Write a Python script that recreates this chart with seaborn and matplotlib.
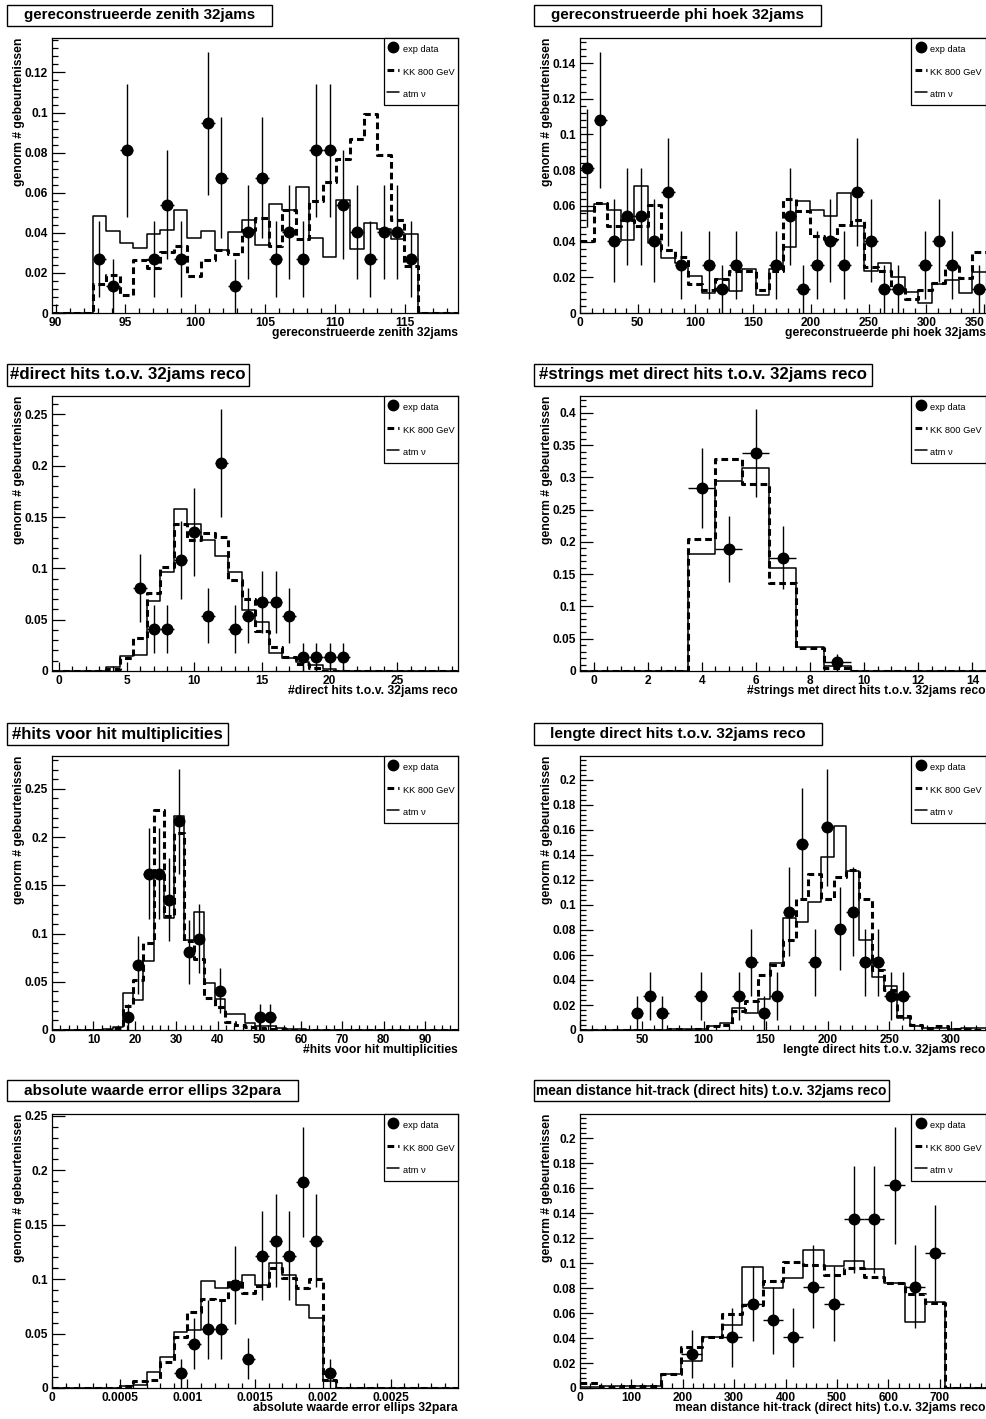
import numpy as np
import pandas as pd
import matplotlib
matplotlib.use("Agg")
import matplotlib.pyplot as plt
from matplotlib.lines import Line2D
from matplotlib.patches import Rectangle
from matplotlib.ticker import MultipleLocator, AutoMinorLocator, FuncFormatter
import seaborn as sns

# ---------------------------------------------------------------- data
N_EVENTS = 74  # number of experimental events; data points are counts / N_EVENTS

# reconstructed zenith (30 bins)
zenith_range = (89.74, 118.83)
zenith_atm = [0, 0, 0, 0.0482, 0.0411, 0.0349, 0.0323, 0.0394, 0.0416, 0.0515,
              0.0374, 0.0407, 0.0316, 0.0402, 0.0462, 0.0341, 0.0542, 0.0515, 0.0629, 0.0372,
              0.0278, 0.0564, 0.0319, 0.0449, 0.0419, 0.0369, 0.0394, 0, 0, 0]
zenith_kk = [0, 0, 0, 0.0146, 0.019, 0.009, 0.0263, 0.0226, 0.0303, 0.0336,
             0.0186, 0.0263, 0.0316, 0.0296, 0.0416, 0.0474, 0.0333, 0.0515, 0.0369, 0.0559,
             0.0654, 0.0768, 0.0868, 0.0993, 0.0787, 0.0466, 0.0233, 0, 0, 0]
zenith_data = [0, 0, 0, 2, 1, 6, 0, 2, 4, 2, 0, 7, 5, 1, 3, 5, 2, 3, 2, 6,
               6, 4, 3, 2, 3, 3, 2, 0, 0, 0]

# reconstructed phi angle (30 bins)
phi_range = (0.0, 351.5)
phi_atm = [0.057, 0.0612, 0.0575, 0.041, 0.0713, 0.0392, 0.0308, 0.028, 0.0205, 0.0112,
           0.019, 0.0121, 0.0246, 0.0103, 0.0246, 0.037, 0.0625, 0.0575, 0.0545, 0.0672,
           0.0489, 0.0233, 0.028, 0.020, 0.0116, 0.0056, 0.0162, 0.0187, 0.011, 0.0228]
phi_kk = [0.0401, 0.0616, 0.0489, 0.0523, 0.0485, 0.0607, 0.0355, 0.0314, 0.0162, 0.0127,
          0.019, 0.0233, 0.0233, 0.0127, 0.0233, 0.064, 0.057, 0.0433, 0.0414, 0.0493,
          0.0523, 0.026, 0.0233, 0.0136, 0.0078, 0.013, 0.0168, 0.026, 0.0196, 0.034]
phi_data = [6, 8, 3, 4, 4, 3, 5, 2, 0, 2, 1, 2, 0, 0, 2, 4, 1, 2, 3, 2,
            5, 3, 1, 1, 0, 2, 3, 2, 0, 1]

# number of direct hits (30 bins)
ndir_range = (-0.5, 29.5)
ndir_atm = [0, 0, 0, 0, 0.004, 0.0146, 0.0156, 0.0685, 0.0968, 0.158,
            0.143, 0.128, 0.112, 0.096, 0.0594, 0.0474, 0.0179, 0.013, 0.0091, 0.0058,
            0.002, 0, 0, 0, 0, 0, 0, 0, 0, 0]
ndir_kk = [0, 0, 0, 0, 0.002, 0.013, 0.0325, 0.0763, 0.101, 0.143,
           0.128, 0.134, 0.131, 0.0886, 0.0698, 0.0393, 0.023, 0.014, 0.0068, 0.0026,
           0, 0, 0, 0, 0, 0, 0, 0, 0, 0]
ndir_data = [0, 0, 0, 0, 0, 0, 6, 3, 3, 8, 10, 4, 15, 3, 4, 5, 5, 4, 1, 1,
             1, 1, 0, 0, 0, 0, 0, 0, 0, 0]

# number of strings with direct hits (15 bins)
nstr_range = (-0.5, 14.5)
nstr_atm = [0, 0, 0, 0, 0.182, 0.295, 0.314, 0.160, 0.0377, 0.0077, 0, 0, 0, 0, 0]
nstr_kk = [0, 0, 0, 0, 0.204, 0.329, 0.289, 0.137, 0.035, 0.005, 0, 0, 0, 0, 0]
nstr_data = [0, 0, 0, 0, 21, 14, 25, 13, 0, 1, 0, 0, 0, 0, 0]

# number of hits (40 bins)
nhit_range = (0.0, 98.0)
nhit_atm = [0, 0, 0, 0, 0, 0.001, 0.003, 0.038, 0.031, 0.0717,
            0.16, 0.116, 0.222, 0.093, 0.122, 0.049, 0.0317, 0.0166, 0.0166, 0.0076,
            0.0045, 0.004, 0.002, 0.001, 0.001, 0.0005, 0.0005, 0, 0, 0,
            0, 0, 0, 0, 0, 0, 0, 0, 0, 0]
nhit_kk = [0, 0, 0, 0, 0, 0, 0.002, 0.025, 0.052, 0.090,
           0.228, 0.118, 0.204, 0.092, 0.074, 0.0334, 0.024, 0.0086, 0.005, 0.003,
           0.002, 0.001, 0.001, 0, 0, 0, 0, 0, 0, 0,
           0, 0, 0, 0, 0, 0, 0, 0, 0, 0]
nhit_data = [0, 0, 0, 0, 0, 0, 0, 1, 5, 12, 12, 10, 16, 6, 7, 0, 3, 0, 0, 0,
             1, 1, 0, 0, 0, 0, 0, 0, 0, 0, 0, 0, 0, 0, 0, 0, 0, 0, 0, 0]

# length of direct hits (32 bins)
len_range = (0.0, 328.0)
len_atm = [0, 0, 0, 0, 0, 0, 0, 0.001, 0.001, 0.001,
           0.0032, 0.0053, 0.0173, 0.0139, 0.0245, 0.0533, 0.0893, 0.0867, 0.1027, 0.1387,
           0.1635, 0.1275, 0.072, 0.0427, 0.0355, 0.0099, 0.0032, 0.002, 0.002, 0.001,
           0.002, 0.002]
len_kk = [0, 0, 0, 0, 0, 0, 0, 0.001, 0, 0.001,
          0.003, 0.004, 0.015, 0.023, 0.044, 0.052, 0.072, 0.1045, 0.1245, 0.105,
          0.1227, 0.128, 0.105, 0.048, 0.032, 0.011, 0.004, 0.002, 0.003, 0.001,
          0.001, 0]
len_data = [0, 0, 0, 0, 1, 2, 1, 0, 0, 2, 0, 0, 2, 4, 1, 2, 7, 11, 4, 12,
            6, 7, 4, 4, 2, 2, 0, 0, 0, 0, 0, 0]

# absolute value error ellipse (30 bins)
ell_range = (0.0, 0.003)
ell_atm = [0, 0, 0, 0, 0, 0.0015, 0.003, 0.0143, 0.0284, 0.051,
           0.053, 0.098, 0.092, 0.0976, 0.104, 0.0946, 0.115, 0.1037, 0.0763, 0.064,
           0.006, 0, 0, 0, 0, 0, 0, 0, 0, 0]
ell_kk = [0, 0, 0, 0, 0, 0.0015, 0.006, 0.0076, 0.0235, 0.047,
          0.070, 0.082, 0.081, 0.098, 0.087, 0.094, 0.11, 0.1007, 0.092, 0.10,
          0.0076, 0, 0, 0, 0, 0, 0, 0, 0, 0]
ell_data = [0, 0, 0, 0, 0, 0, 0, 0, 0, 1, 3, 4, 4, 7, 2, 9, 10, 9, 14, 10,
            1, 0, 0, 0, 0, 0, 0, 0, 0, 0]

# mean distance hit-track (20 bins)
dist_range = (0.0, 790.0)
dist_atm = [0.0005, 0.0013, 0.002, 0.002, 0.0112, 0.0218, 0.0412, 0.0505, 0.0966, 0.0798,
            0.0878, 0.1104, 0.0976, 0.1016, 0.095, 0.0843, 0.0532, 0.0692, 0, 0]
dist_kk = [0.004, 0.001, 0.002, 0.002, 0.0112, 0.0325, 0.0412, 0.0593, 0.0665, 0.0857,
           0.101, 0.0984, 0.0904, 0.0963, 0.089, 0.0838, 0.075, 0.0684, 0, 0]
dist_data = [0, 0, 0, 0, 0, 2, 0, 3, 5, 4, 3, 6, 5, 10, 10, 12, 6, 8, 0, 0]

YLABEL = "genorm # gebeurtenissen"
LEGEND_LABELS = ["exp data", "KK 800 GeV", "atm \u03bd"]

panels = [
    dict(title="gereconstrueerde zenith 32jams", xlabel="gereconstrueerde zenith 32jams",
         xrange=zenith_range, atm=zenith_atm, kk=zenith_kk, data=zenith_data,
         ymax=0.1372, xmajor=5, ymajor=0.02, xminor=5),
    dict(title="gereconstrueerde phi hoek 32jams", xlabel="gereconstrueerde phi hoek 32jams",
         xrange=phi_range, atm=phi_atm, kk=phi_kk, data=phi_data,
         ymax=0.154, xmajor=50, ymajor=0.02, xminor=5),
    dict(title="#direct hits t.o.v. 32jams reco", xlabel="#direct hits t.o.v. 32jams reco",
         xrange=ndir_range, atm=ndir_atm, kk=ndir_kk, data=ndir_data,
         ymax=0.268, xmajor=5, ymajor=0.05, xminor=5),
    dict(title="#strings met direct hits t.o.v. 32jams reco",
         xlabel="#strings met direct hits t.o.v. 32jams reco",
         xrange=nstr_range, atm=nstr_atm, kk=nstr_kk, data=nstr_data,
         ymax=0.426, xmajor=2, ymajor=0.05, xminor=4),
    dict(title="#hits voor hit multiplicities", xlabel="#hits voor hit multiplicities",
         xrange=nhit_range, atm=nhit_atm, kk=nhit_kk, data=nhit_data,
         ymax=0.284, xmajor=10, ymajor=0.05, xminor=5),
    dict(title="lengte direct hits t.o.v. 32jams reco",
         xlabel="lengte direct hits t.o.v. 32jams reco",
         xrange=len_range, atm=len_atm, kk=len_kk, data=len_data,
         ymax=0.2192, xmajor=50, ymajor=0.02, xminor=5),
    dict(title="absolute waarde error ellips 32para",
         xlabel="absolute waarde error ellips 32para",
         xrange=ell_range, atm=ell_atm, kk=ell_kk, data=ell_data,
         ymax=0.2516, xmajor=0.0005, ymajor=0.05, xminor=5),
    dict(title="mean distance hit-track (direct hits) t.o.v. 32jams reco",
         xlabel="mean distance hit-track (direct hits) t.o.v. 32jams reco",
         xrange=dist_range, atm=dist_atm, kk=dist_kk, data=dist_data,
         ymax=0.2194, xmajor=100, ymajor=0.02, xminor=5),
]

# ---------------------------------------------------------------- style
sns.set_theme(style="white", rc={
    "axes.edgecolor": "black", "axes.linewidth": 0.9,
    "xtick.color": "black", "ytick.color": "black",
    "text.color": "black", "axes.labelcolor": "black",
})
plt.rcParams["font.family"] = ["Liberation Sans", "DejaVu Sans"]
plt.rcParams["font.weight"] = "bold"
plt.rcParams["axes.labelweight"] = "bold"

W, H = 986, 1419
fig = plt.figure(figsize=(W / 100, H / 100), dpi=100)
fig.patch.set_facecolor("white")

# pad geometry in pixels: (left, right) per column, (top, bottom) per row
columns = [(52, 458), (580, 985.5)]
rows = [(38, 313), (396, 671), (756, 1030), (1114, 1388)]
# title boxes (x0, x1, y0, y1) and the width the title text should fill
title_boxes = [(7, 272, 5, 26, 231), (534, 821, 5, 26, 250),
               (7, 249, 364, 386, 234), (534, 872, 364, 386, 328),
               (7, 228, 723, 745, 211), (534, 822, 723, 745, 254),
               (7, 298, 1080, 1101, 255), (534, 889, 1080, 1101, 350)]

DASH_KW = dict(linewidth=2.2, dashes=(2.2, 1.3))
SOLID_KW = dict(linewidth=1.1)
fmt = FuncFormatter(lambda v, pos: f"{v:g}")


def draw_panel(ax, p):
    lo, hi = p["xrange"]
    nb = len(p["atm"])
    edges = np.linspace(lo, hi, nb + 1)
    centers = 0.5 * (edges[:-1] + edges[1:])
    half = 0.5 * (edges[1] - edges[0])

    hist = pd.DataFrame({"center": centers,
                         "kk": np.asarray(p["kk"], dtype=float),
                         "atm": np.asarray(p["atm"], dtype=float)})
    sns.histplot(data=hist, x="center", weights="kk", bins=list(edges), element="step",
                 fill=False, color="black", ax=ax, **DASH_KW)
    sns.histplot(data=hist, x="center", weights="atm", bins=list(edges), element="step",
                 fill=False, color="black", ax=ax, **SOLID_KW)

    counts = np.asarray(p["data"], dtype=float)
    m = counts > 0
    yv = counts[m] / N_EVENTS
    ye = np.sqrt(counts[m]) / N_EVENTS
    ax.errorbar(centers[m], yv, yerr=ye, xerr=half, fmt="none", ecolor="black",
                elinewidth=1.0, capsize=0, zorder=4)
    sns.scatterplot(x=centers[m], y=yv, color="black", s=74, linewidth=0,
                    marker="o", ax=ax, zorder=5)

    # the upper edge is pulled in a hair so no tick label lands on the frame corner
    ax.set_xlim(lo, hi - 1e-3 * (hi - lo))
    ax.set_ylim(0, p["ymax"])
    ax.xaxis.set_major_locator(MultipleLocator(p["xmajor"]))
    ax.yaxis.set_major_locator(MultipleLocator(p["ymajor"]))
    ax.xaxis.set_minor_locator(AutoMinorLocator(p["xminor"]))
    ax.yaxis.set_minor_locator(AutoMinorLocator(5))
    ax.xaxis.set_major_formatter(fmt)
    ax.yaxis.set_major_formatter(fmt)
    ax.tick_params(axis="x", which="both", direction="in", bottom=True, top=False,
                   labelsize=8.6, pad=3.0, width=0.9)
    ax.tick_params(axis="x", which="major", length=6.5)
    ax.tick_params(axis="x", which="minor", length=3.4)
    ax.tick_params(axis="y", which="both", direction="in", left=True, right=False,
                   labelsize=8.6, pad=3.0, width=0.9)
    ax.tick_params(axis="y", which="major", length=9.0)
    ax.tick_params(axis="y", which="minor", length=4.6)
    ax.grid(False)
    for s in ax.spines.values():
        s.set_visible(True)
        s.set_color("black")
        s.set_linewidth(0.9)

    ax.set_xlabel(p["xlabel"], fontsize=8.7, fontweight="bold", ha="right", va="center")
    ax.xaxis.set_label_coords(1.0, -20 / 275)
    ax.set_ylabel(YLABEL, fontsize=8.7, fontweight="bold", ha="right", va="center")
    ax.yaxis.set_label_coords(-33 / 406, 1.0)

    handles = [Line2D([], [], marker="o", ls="none", color="black", markersize=7.5),
               Line2D([], [], color="black", **DASH_KW),
               Line2D([], [], color="black", **SOLID_KW)]
    leg = ax.legend(handles, LEGEND_LABELS, loc="upper right", bbox_to_anchor=(1, 1),
                    borderaxespad=0, frameon=True, fancybox=False, framealpha=1,
                    edgecolor="black", borderpad=0.4, handlelength=1.3, handleheight=2.0,
                    handletextpad=0.35, labelspacing=0.9,
                    prop={"size": 6.7, "weight": "normal"})
    leg.get_frame().set_linewidth(0.9)


renderer = fig.canvas.get_renderer()
axes_list = []
for i, p in enumerate(panels):
    r, c = divmod(i, 2)
    left, right = columns[c]
    top, bottom = rows[r]
    ax = fig.add_axes([left / W, 1 - bottom / H, (right - left) / W, (bottom - top) / H])
    ax.set_facecolor("white")
    draw_panel(ax, p)
    axes_list.append(ax)

    bx0, bx1, by0, by1, text_w = title_boxes[i]
    fig.add_artist(Rectangle((bx0 / W, 1 - by1 / H), (bx1 - bx0) / W, (by1 - by0) / H,
                             transform=fig.transFigure, facecolor="white",
                             edgecolor="black", linewidth=1.0))
    t = fig.text((bx0 + bx1) / 2 / W, 1 - (by0 + by1) / 2 / H, p["title"],
                 ha="center", va="center", fontsize=12, fontweight="bold")
    w_now = t.get_window_extent(renderer).width
    t.set_fontsize(12 * text_w / w_now)

# keep tick labels that sit on the right edge of the canvas fully visible
fig.canvas.draw()
for ax in axes_list:
    for lbl in ax.get_xticklabels():
        bb = lbl.get_window_extent(renderer)
        if lbl.get_visible() and lbl.get_text() and bb.x1 > W - 1:
            lbl.set_horizontalalignment("right")

fig.savefig("out.png", dpi=100, facecolor="white")
